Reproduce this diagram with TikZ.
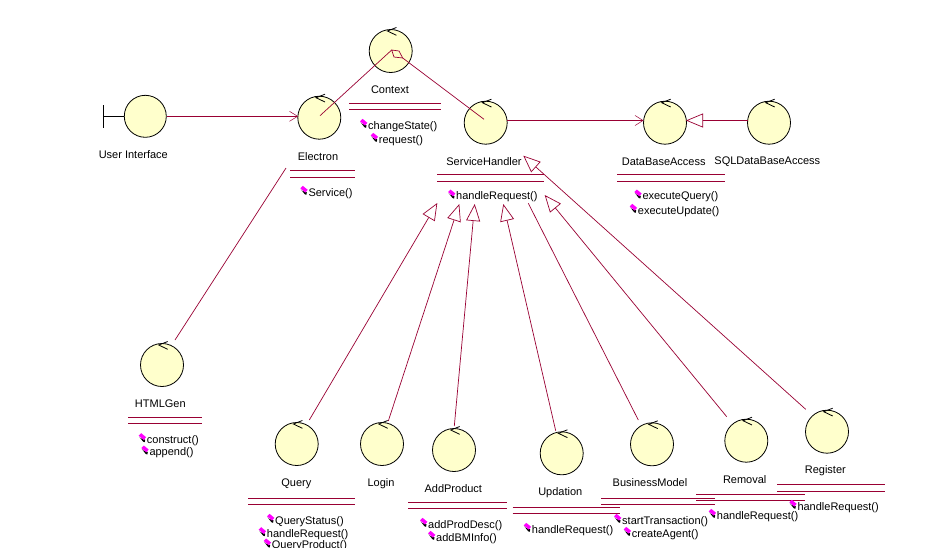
\documentclass[tikz,border=0pt]{standalone}
\usepackage{fontspec}
\setmainfont{Liberation Sans}
\usetikzlibrary{arrows.meta}
\definecolor{linkred}{HTML}{990033}
\definecolor{ctlyellow}{HTML}{FFFFCC}
\definecolor{opmagenta}{HTML}{FF00FF}
\tikzset{
  ctl/.style={circle,draw=black,fill=ctlyellow,line width=0.8pt,minimum size=43pt,inner sep=0pt},
  lbl/.style={inner sep=0pt,yshift=-1pt,font=\fontsize{11}{12}\selectfont,text=black},
  op/.style={inner sep=0pt,anchor=west,yshift=-1pt,font=\fontsize{11}{12}\selectfont,text=black},
  rule/.style={draw=linkred,line width=0.9pt},
  link/.style={draw=linkred,line width=0.7pt},
  nav/.style={link,line width=1pt,-{Straight Barb[length=8pt,width=10pt,line width=0.5pt]}},
  gen/.style={link,-{Triangle[open,length=17pt,width=14pt,line width=0.7pt,fill=white]}},
}
% control class: circle with arrow on top
\newcommand{\ctlnode}[3]{%
  \node[ctl] (#1) at (#2,#3) {};
  \draw[black,line width=0.8pt] ([shift={(5.7,-23.5)}]#1.center) -- ([shift={(-3.3,-20)}]#1.center) -- ([shift={(5.7,-15.7)}]#1.center);
}
% two compartment rules
\newcommand{\rulepair}[4]{%
  \coordinate (#1a) at (#2,#4); \coordinate (#1b) at (#3,#4);
  \coordinate (#1c) at (#2,#4+6.5); \coordinate (#1d) at (#3,#4+6.5);
  \draw[rule] (#1a) -- (#1b);
  \draw[rule] (#1c) -- (#1d);
}
% operation: marker and text
\newcommand{\opnode}[4]{%
  \node[op] (#1) at (#2,#3) {#4};
  \fill[black] ([shift={(-7.5,-4)}]#1.west) -- ([shift={(-6,-2.5)}]#1.west) -- ([shift={(-1.5,-1)}]#1.west) -- ([shift={(-2,1.5)}]#1.west) -- ([shift={(-3.5,1)}]#1.west) -- cycle;
  \fill[opmagenta] ([shift={(-8,-5)}]#1.west) -- ([shift={(-5.5,-7.5)}]#1.west) -- ([shift={(-0.6,-3.5)}]#1.west) -- ([shift={(-3,-0.7)}]#1.west) -- cycle;
}
\begin{document}
\begin{tikzpicture}[x=1pt,y=-1pt]
\useasboundingbox[fill=white] (0,0) rectangle (931,547);

% boundary
\node[ctl,minimum size=42pt] (ui) at (145.3,116.3) {};
\coordinate (uibarT) at (103.3,105);
\coordinate (uibarB) at (103.3,127.7);
\coordinate (uibarM) at (103.3,116.3);
\draw[black,line width=0.7pt] (uibarT) -- (uibarB);
\draw[black,line width=0.7pt] (uibarM) -- (ui.west);

\ctlnode{electron}{319.3}{117.7}
\ctlnode{context}{390.7}{51}
\ctlnode{service}{485.7}{122.7}
\ctlnode{dba}{665}{122.7}
\ctlnode{sql}{769}{122.7}
\ctlnode{html}{162}{365}
\ctlnode{query}{296.7}{444}
\ctlnode{login}{382}{444}
\ctlnode{addprod}{454}{450}
\ctlnode{updation}{561.7}{453.3}
\ctlnode{business}{652}{444.3}
\ctlnode{removal}{746.3}{440.7}
\ctlnode{register}{827}{431.7}

% labels
\node[lbl] (uiL) at (133.3,153.3) {User Interface};
\node[lbl] (electronL) at (318,155.3) {Electron};
\node[lbl] (contextL) at (390,88.3) {Context};
\node[lbl] (serviceL) at (484,160.3) {ServiceHandler};
\node[lbl] (dbaL) at (663.7,160.3) {DataBaseAccess};
\node[lbl] (sqlL) at (767.3,160.3) {SQLDataBaseAccess};
\node[lbl] (htmlL) at (160.3,402.3) {HTMLGen};
\node[lbl] (queryL) at (296.3,482.3) {Query};
\node[lbl] (loginL) at (381,482.3) {Login};
\node[lbl] (addprodL) at (453.3,487.3) {AddProduct};
\node[lbl] (updationL) at (560.3,491.3) {Updation};
\node[lbl] (businessL) at (650,482) {BusinessModel};
\node[lbl] (removalL) at (744.7,478.3) {Removal};
\node[lbl] (registerL) at (825.3,469.3) {Register};

% compartments
\rulepair{rContext}{349}{441}{103.3}
\rulepair{rElectron}{290}{355}{170.5}
\rulepair{rService}{437}{544}{174.5}
\rulepair{rDba}{617.3}{725}{174.5}
\rulepair{rHtml}{128}{201.7}{417}
\rulepair{rQuery}{248}{355}{498.3}
\rulepair{rAdd}{408}{507}{502.3}
\rulepair{rUpd}{512.7}{620}{507.3}
\rulepair{rBus}{601}{715}{498.3}
\rulepair{rRem}{696}{805}{494.3}
\rulepair{rReg}{777}{885}{484.5}

% connector ends
\coordinate (eIn) at (320,115.7);
\coordinate (dTip) at (391.7,50);
\coordinate (dR) at (399,51);
\coordinate (dB) at (402.7,58);
\coordinate (dL) at (394,57);
\coordinate (sIn) at (484,119.3);
\coordinate (eOut) at (286,168);
\coordinate (hOut) at (175,340);
\coordinate (qEnd) at (309.3,420);
\coordinate (qTip) at (437.3,203);
\coordinate (lEnd) at (388.3,421);
\coordinate (lTip) at (459.3,204);
\coordinate (aEnd) at (454.3,426);
\coordinate (aTip) at (474.7,204);
\coordinate (uEnd) at (555.7,430.7);
\coordinate (uTip) at (503.3,204);
\coordinate (bEnd) at (638.3,420);
\coordinate (bTip) at (528.3,203.3);
\coordinate (rEnd) at (726.7,416.7);
\coordinate (rTip) at (544.7,195);
\coordinate (gEnd) at (805.7,409.3);
\coordinate (gTip) at (523.3,155.7);
\coordinate (sqlTip) at (686,120.5);
\coordinate (sqlStart) at (748,120.5);
\coordinate (shStart) at (507,120.5);
\coordinate (dbIn) at (643.5,120.5);
\coordinate (uiOut) at (166.5,116.3);
\coordinate (eTip) at (298,116.3);

% connectors
\draw[nav] (uiOut) -- (eTip);
\draw[nav] (shStart) -- (dbIn);
\draw[gen] (sqlStart) -- (sqlTip);
\draw[link] (eIn) -- (dTip);
\draw[link] (dTip) -- (dR) -- (dB) -- (dL) -- cycle;
\draw[link] (dB) -- (sIn);
\draw[link] (eOut) -- (hOut);
\draw[gen] (qEnd) -- (qTip);
\draw[gen] (lEnd) -- (lTip);
\draw[gen] (aEnd) -- (aTip);
\draw[gen] (uEnd) -- (uTip);
\draw[link] (bEnd) -- (bTip);
\draw[gen] (rEnd) -- (rTip);
\draw[gen] (gEnd) -- (gTip);

% operations
\opnode{o1}{308.3}{192.3}{Service()}
\opnode{o2}{368}{125.3}{changeState()}
\opnode{o3}{378.7}{139.3}{request()}
\opnode{o4}{456}{196}{handleRequest()}
\opnode{o5}{642.3}{196}{executeQuery()}
\opnode{o6}{637.7}{210.3}{executeUpdate()}
\opnode{o7}{146.7}{439.7}{construct()}
\opnode{o8}{149.3}{452}{append()}
\opnode{o9}{275}{520.3}{QueryStatus()}
\opnode{o10}{266.7}{533.7}{handleRequest()}
\opnode{o11}{271.7}{545}{QueryProduct()}
\opnode{o12}{428}{524.3}{addProdDesc()}
\opnode{o13}{436}{537.3}{addBMInfo()}
\opnode{o14}{531.7}{529.3}{handleRequest()}
\opnode{o15}{622}{520.3}{startTransaction()}
\opnode{o16}{631.7}{533.3}{createAgent()}
\opnode{o17}{716.7}{515.3}{handleRequest()}
\opnode{o18}{797.3}{506.3}{handleRequest()}
\end{tikzpicture}
\end{document}
